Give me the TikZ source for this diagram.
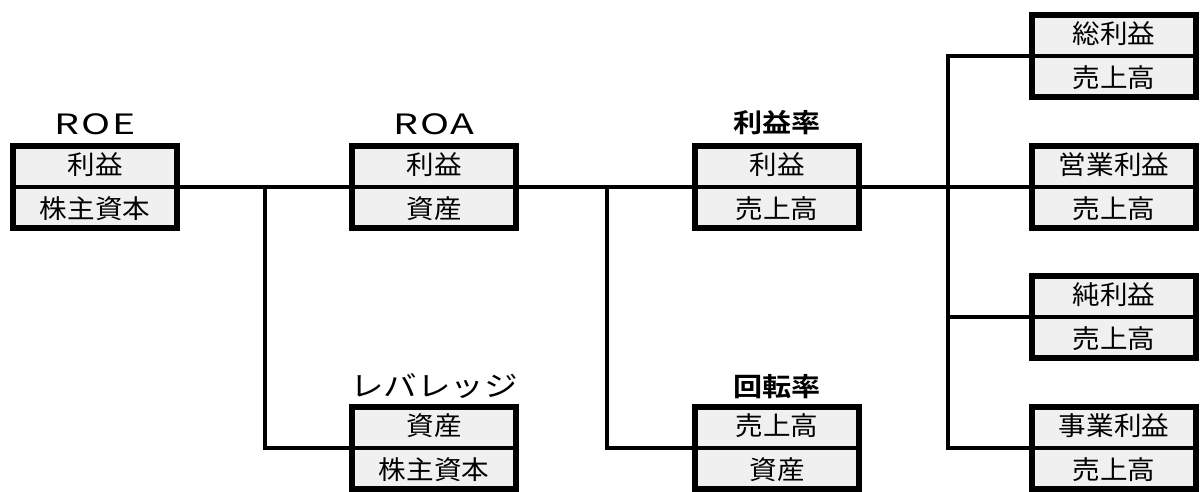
\documentclass[tikz,border=0pt]{standalone}
\usepackage{fontspec}
\newfontfamily\cjk[FakeStretch=1.06]{Noto Sans CJK JP}
\newfontfamily\cjkt[FakeStretch=1.2]{Noto Sans CJK JP}
\newfontfamily\cjkb[FakeStretch=1.12]{Noto Sans CJK JP Bold}
\newfontfamily\latt[FakeStretch=1.4,LetterSpace=6]{Noto Sans CJK JP}
\usetikzlibrary{calc}
\definecolor{boxgray}{RGB}{240,240,240}
\tikzset{
  box/.style={draw, line width=5.2pt, fill=boxgray, minimum width=164pt, minimum height=82pt, inner sep=0pt},
  divline/.style={line width=3.2pt},
  conn/.style={line width=3.2pt},
  cell/.style={font=\cjk\fontsize{26}{28}\selectfont, inner sep=0pt},
  ttl/.style={font=\cjkt\fontsize{28}{30}\selectfont, inner sep=0pt},
  ttlb/.style={font=\cjkb\fontsize{26}{30}\selectfont, inner sep=0pt},
  ttllat/.style={font=\latt\fontsize{28}{30}\selectfont, inner sep=0pt}
}
\newcommand\ratiobox[5]{%
  \node[box] (#1) at (#2,#3) {};
  \draw[divline] (#1.west) -- (#1.east);
  \node[cell] (#1-t) at ($(#1.center)+(0,-22)$) {#4};
  \node[cell] (#1-b) at ($(#1.center)+(0,22)$) {#5};
}
\begin{document}
\begin{tikzpicture}[x=1pt,y=-1pt]
\useasboundingbox (0,0) rectangle (1201,492);
% boxes
\ratiobox{roe}{95}{187}{利益}{株主資本}
\ratiobox{roa}{434}{187}{利益}{資産}
\ratiobox{lev}{434}{448}{資産}{株主資本}
\ratiobox{prof}{777}{187}{利益}{売上高}
\ratiobox{turn}{777}{448}{売上高}{資産}
\ratiobox{sou}{1114}{56}{総利益}{売上高}
\ratiobox{eig}{1114}{187}{営業利益}{売上高}
\ratiobox{jun}{1114}{317}{純利益}{売上高}
\ratiobox{jig}{1114}{448}{事業利益}{売上高}
% titles
\node[ttllat] (roe-title) at (95,124) {ROE};
\node[ttllat] (roa-title) at (434,124) {ROA};
\node[ttlb] (prof-title) at (777,123) {利益率};
\node[ttl] (lev-title) at (434,386) {レバレッジ};
\node[ttlb] (turn-title) at (777,387) {回転率};
% junctions
\coordinate (j1) at (265,187);
\coordinate (j2) at (607,187);
\coordinate (j3) at (948,187);
% connectors
\draw[conn] (roe.east) -- (roa.west);
\draw[conn] (j1) |- (lev.west);
\draw[conn] (roa.east) -- (prof.west);
\draw[conn] (j2) |- (turn.west);
\draw[conn] (prof.east) -- (eig.west);
\draw[conn] (sou.west) -| (j3) |- (jig.west);
\draw[conn] (j3) |- (jun.west);
\end{tikzpicture}
\end{document}
